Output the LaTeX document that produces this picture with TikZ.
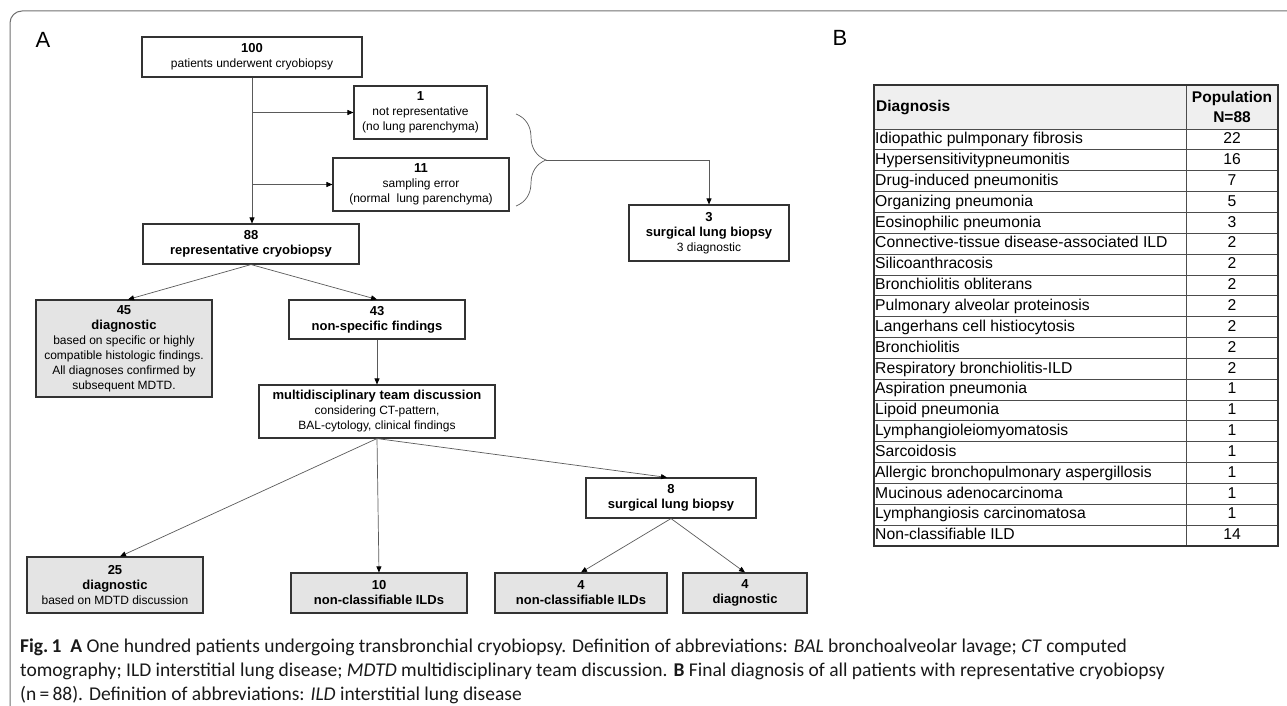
\documentclass[tikz,border=0pt]{standalone}
\usepackage{fontspec}
\setmainfont{Liberation Sans}
\newfontfamily\capfont{Carlito}
\usetikzlibrary{positioning, arrows.meta, calc, decorations.pathreplacing}
\definecolor{boxgrey}{HTML}{E4E4E4}
\definecolor{linegrey}{HTML}{5A5A5A}
\definecolor{framegrey}{HTML}{707070}
\newcommand{\bnum}[1]{{\fontsize{13}{15}\selectfont\bfseries #1}}

\tikzset{
    fbox/.style={draw=black!80, line width=1.1pt, fill=white, align=center, inner sep=0pt,
        font=\fontsize{12}{15}\selectfont},
    gbox/.style={fbox, fill=boxgrey},
    arr/.style={draw=linegrey, line width=0.7pt, -{Triangle[length=6pt,width=5pt,color=black]}},
    tcell/.style={inner sep=0pt, font=\fontsize{15.7}{18}\selectfont, text height=12pt, text depth=3.5pt},
    tline/.style={draw=black!70, line width=0.9pt},
    capt/.style={inner sep=0pt, font=\capfont\fontsize{19.5}{22}\selectfont, text=black!90},
    panel/.style={inner sep=0pt, font=\fontsize{22}{22}\selectfont}
}

\begin{document}
\begin{tikzpicture}[x=1pt, y=-1pt]
    \useasboundingbox (0,0) rectangle (1287,706);
    \draw[framegrey, line width=1pt, rounded corners=12pt] (1290,11) -- (10,11) -- (10,710);

    % panel A
    \node[panel] (labA) at (43,40) {A};
    \node[fbox, minimum width=220pt, minimum height=40pt] (n100) at (252,57)
        {\bnum{100}\\patients underwent cryobiopsy};
    \node[fbox, minimum width=133pt, minimum height=53pt] (n1) at (420.5,112.5)
        {\bnum{1}\\not representative\\(no lung parenchyma)};
    \node[fbox, minimum width=176pt, minimum height=53pt] (n11) at (421,184.5)
        {\bnum{11}\\sampling error\\(normal\ \ lung parenchyma)};
    \node[fbox, minimum width=216pt, minimum height=40pt] (n88) at (251,244)
        {\bnum{88}\\\bnum{representative cryobiopsy}};
    \node[fbox, minimum width=160pt, minimum height=56pt] (n3) at (709,233)
        {\bnum{3}\\\bnum{surgical lung biopsy}\\3 diagnostic};
    \node[gbox, minimum width=176pt, minimum height=97pt] (n45) at (124,348.5)
        {\bnum{45}\\\bnum{diagnostic}\\based on specific or highly\\compatible histologic findings.\\All diagnoses confirmed by\\subsequent MDTD.};
    \node[fbox, minimum width=176pt, minimum height=39pt] (n43) at (377,319.5)
        {\bnum{43}\\\bnum{non-specific findings}};
    \node[fbox, minimum width=236pt, minimum height=53pt] (nmdt) at (377,411.5)
        {\bnum{multidisciplinary team discussion}\\considering CT-pattern,\\BAL-cytology, clinical findings};
    \node[gbox, minimum width=176pt, minimum height=56pt] (n25) at (115,585)
        {\bnum{25}\\\bnum{diagnostic}\\based on MDTD discussion};
    \node[gbox, minimum width=176pt, minimum height=40pt] (n10) at (379,593)
        {\bnum{10}\\\bnum{non-classifiable ILDs}};
    \node[fbox, minimum width=170pt, minimum height=40pt] (n8) at (671,498)
        {\bnum{8}\\\bnum{surgical lung biopsy}};
    \node[gbox, minimum width=172pt, minimum height=40pt] (n4a) at (581,593)
        {\bnum{4}\\\bnum{non-classifiable ILDs}};
    \node[gbox, minimum width=124pt, minimum height=40pt] (n4b) at (745,593)
        {\bnum{4}\\\bnum{diagnostic}};

    \path
        (n100.south) edge[arr] (n100.south |- n88.north)
        (n100.south |- n1.west) edge[arr] (n1.west)
        (n100.south |- n11.west) edge[arr] (n11.west)
        (n88.south) edge[arr] ($(n45.north)+(4,0)$)
        (n88.south) edge[arr] (n43.north)
        (n43) edge[arr] (nmdt)
        (nmdt.south) edge[arr] ($(n25.north)+(5,0)$)
        (nmdt.south) edge[arr] (n10.north)
        (nmdt.south) edge[arr] ($(n8.north)+(-4,0)$)
        (n8.south) edge[arr] (n4a.north)
        (n8.south) edge[arr] (n4b.north)
        ;

    % brace to the surgical biopsy
    \draw[linegrey, line width=0.7pt, decorate, decoration={brace, amplitude=30pt, aspect=0.5}]
        (516,114) -- (516,206);
    \coordinate (btip) at (546,160);
    \draw[arr] (btip) -| (n3.north);

    % panel B
    \node[panel] (labB) at (840,38) {B};
    \fill[boxgrey!60] (874,85) rectangle (1278,129);
    \node[tcell, anchor=west, font=\fontsize{15.5}{18}\selectfont\bfseries] (hd) at (876,107) {Diagnosis};
    \node[tcell, align=center, text height=, text depth=, font=\fontsize{15.5}{19.5}\selectfont\bfseries] (hp) at (1232,107) {Population\\N=88};
    \foreach \dname/\dnum [count=\i] in {
        Idiopathic pulmponary fibrosis/22,
        Hypersensitivitypneumonitis/16,
        Drug-induced pneumonitis/7,
        Organizing pneumonia/5,
        Eosinophilic pneumonia/3,
        Connective-tissue disease-associated ILD/2,
        Silicoanthracosis/2,
        Bronchiolitis obliterans/2,
        Pulmonary alveolar proteinosis/2,
        Langerhans cell histiocytosis/2,
        Bronchiolitis/2,
        Respiratory bronchiolitis-ILD/2,
        Aspiration pneumonia/1,
        Lipoid pneumonia/1,
        Lymphangioleiomyomatosis/1,
        Sarcoidosis/1,
        Allergic bronchopulmonary aspergillosis/1,
        Mucinous adenocarcinoma/1,
        Lymphangiosis carcinomatosa/1,
        Non-classifiable ILD/14}
    {
        \node[tcell, anchor=west] (d\i) at (875,{129+(\i-0.5)*20.85}) {\dname};
        \node[tcell] (v\i) at (1232,{129+(\i-0.5)*20.85}) {\dnum};
        \draw[tline] (874,{129+(\i-1)*20.85}) -- (1278,{129+(\i-1)*20.85});
    }
    \draw[tline] (1186,85) -- (1186,546);
    \draw[black!80, line width=1.3pt] (874,85) rectangle (1278,546);

    % caption
    \node[capt, anchor=west] (cap1) at (20,647)
        {\textbf{Fig.\,1}\ \ \textbf{A} One hundred patients undergoing transbronchial cryobiopsy. Definition of abbreviations: \textit{BAL} bronchoalveolar lavage; \textit{CT} computed};
    \node[capt, anchor=west] (cap2) at (20,671)
        {tomography; ILD interstitial lung disease; \textit{MDTD} multidisciplinary team discussion. \textbf{B} Final diagnosis of all patients with representative cryobiopsy};
    \node[capt, anchor=west] (cap3) at (20,695)
        {(n\,=\,88). Definition of abbreviations: \textit{ILD} interstitial lung disease};
\end{tikzpicture}
\end{document}
